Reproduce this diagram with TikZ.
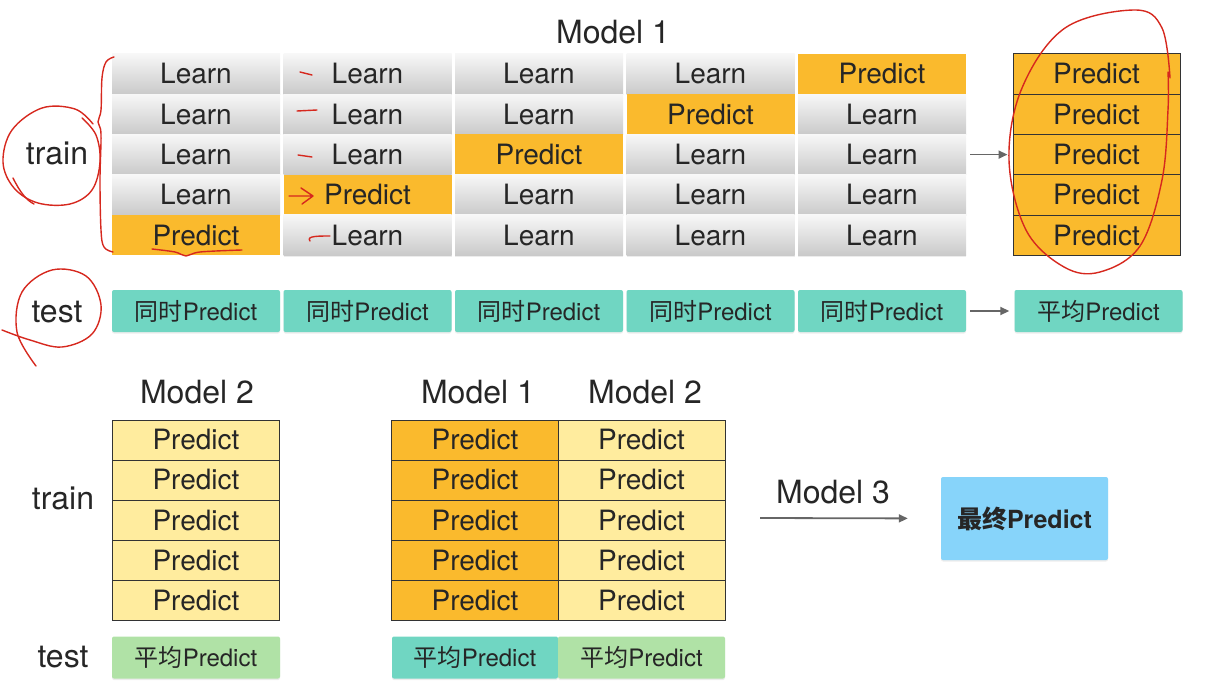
\documentclass[tikz,border=0pt]{standalone}
\usepackage{fontspec}
\setmainfont{TeX Gyre Heros}
\newfontfamily\cjk{Noto Sans CJK SC}
\usetikzlibrary{arrows.meta, shadows}

\definecolor{inkgray}{RGB}{38,38,38}
\definecolor{predorange}{RGB}{250,186,45}
\definecolor{paleyellow}{RGB}{255,236,158}
\definecolor{testteal}{RGB}{112,214,194}
\definecolor{palegreen}{RGB}{176,226,166}
\definecolor{finalblue}{RGB}{135,212,250}
\definecolor{penred}{RGB}{214,40,30}

\begin{document}
\begin{tikzpicture}[
        x=1pt, y=-1pt,
        every node/.style={text=inkgray, inner sep=0pt},
        lbl/.style={font=\fontsize{32}{34}\selectfont},
        cell/.style={minimum width=168pt, minimum height=40.5pt, font=\fontsize{28}{30}\selectfont},
        learn/.style={cell, top color=gray!6, bottom color=gray!42,
            drop shadow={shadow xshift=0pt, shadow yshift=-1.5pt, opacity=0.15}},
        pred/.style={cell, fill=predorange},
        predbox/.style={cell, minimum width=167pt, minimum height=40pt, fill=predorange, draw=black!80, line width=1pt},
        ybox/.style={predbox, fill=paleyellow},
        testcell/.style={minimum width=168pt, minimum height=42pt, rounded corners=2pt,
            font=\fontsize{24}{26}\selectfont,
            drop shadow={shadow xshift=0pt, shadow yshift=-1.5pt, opacity=0.15}},
        teal/.style={testcell, fill=testteal},
        green/.style={testcell, fill=palegreen},
        finalbox/.style={minimum width=167pt, minimum height=83pt, rounded corners=2pt, fill=finalblue,
            font=\fontsize{25}{27}\selectfont\bfseries,
            drop shadow={shadow xshift=0pt, shadow yshift=-1.5pt, opacity=0.15}},
        arrow/.style={-{Triangle[length=9pt, width=8pt]}, draw=gray!80!black, line width=1.8pt},
        redpen/.style={draw=penred, line width=1.4pt, line cap=round, line join=round}
    ]
    \useasboundingbox (0,0) rectangle (1205,690);

    % Model 1 grid
    \node[lbl] (m1top) at (613,32) {Model 1};
    \foreach \c in {1,...,5} {
        \foreach \r in {1,...,5} {
            \pgfmathsetmacro\cx{196+171.5*(\c-1)}
            \pgfmathsetmacro\cy{74+40.3*(\r-1)}
            \ifnum\numexpr\c+\r\relax=6
                \node[pred] (l-\c-\r) at (\cx,\cy) {Predict};
            \else
                \node[learn] (l-\c-\r) at (\cx,\cy) {Learn};
            \fi
        }
        \node[teal] (t-\c) at ({196+171.5*(\c-1)},311) {{\cjk 同时}Predict};
    }

    % stacked predictions
    \foreach \r in {1,...,5}
        \node[predbox, minimum height=40.3pt] (p-\r) at (1096.5,{74+40.3*(\r-1)}) {Predict};
    \node[teal] (tavg) at (1098.5,311) {{\cjk 平均}Predict};

    \node[lbl] (train) at (57,153) {train};
    \node[lbl] (test) at (57,312) {test};

    \draw[arrow, shorten <=4pt, shorten >=5pt] (l-5-3.east) -- (p-3.west);
    \draw[arrow, shorten <=4pt, shorten >=5pt] (t-5.east) -- (tavg.west);

    % Model 2 alone
    \node[lbl] (m2a) at (197,392) {Model 2};
    \foreach \r in {1,...,5}
        \node[ybox] (b-\r) at (196,{400+40*\r}) {Predict};
    \node[green] (bt) at (196,657.5) {{\cjk 平均}Predict};
    \node[lbl] (train2) at (63,498) {train};
    \node[lbl] (test2) at (63,657) {test};

    % Model 1 + Model 2
    \node[lbl] (m1b) at (478,392) {Model 1};
    \node[lbl] (m2b) at (645,392) {Model 2};
    \foreach \r in {1,...,5} {
        \node[predbox] (ma-\r) at (475,{400+40*\r}) {Predict};
        \node[ybox, minimum width=167pt] (mb-\r) at (641.5,{400+40*\r}) {Predict};
    }
    \node[teal, minimum width=166pt] (ct1) at (475,657.5) {{\cjk 平均}Predict};
    \node[green, minimum width=167pt] (ct2) at (641.5,657.5) {{\cjk 平均}Predict};

    % Model 3
    \node[finalbox] (final) at (1024.5,518.5) {{\cjk\bfseries 最终}Predict};
    \coordinate (m3start) at (760,518);
    \node[lbl] (m3) at (833,492) {Model 3};
    \draw[arrow, shorten >=33pt] (m3start) -- (final.west);

    % red pen marks
    \draw[redpen] plot[smooth, tension=0.6] coordinates {(114,57) (106,62) (102,78) (101,110) (98,122) (101,134) (100,180) (101,230) (104,247) (113,252)};
    \draw[redpen] plot[smooth, tension=0.6] coordinates {(93,124) (75,109) (42,108) (12,130) (3,162) (14,188) (38,203) (70,204) (92,190) (100,162) (96,135) (82,118)};
    \draw[redpen] (13,178) .. controls (20,192) and (26,200) .. (34,204);
    \draw[redpen] plot[smooth, tension=0.6] coordinates {(36,366) (17,332) (22,292) (52,270) (86,276) (101,305) (92,334) (62,347) (30,340) (2,330)};
    \draw[redpen] plot[smooth, tension=0.6] coordinates {(1170,78) (1162,28) (1135,10) (1065,28) (1022,88) (1009,160) (1026,230) (1064,267) (1100,272) (1140,246) (1162,180) (1168,110) (1168,72)};
    \draw[redpen] (300,72) -- (312,75);
    \draw[redpen] (297,111) -- (317,110);
    \draw[redpen] (298,155) -- (312,157);
    \draw[redpen] (310,241) .. controls (306,236) and (318,236) .. (330,236);
    \draw[redpen] (289,196) -- (311,196) (301,188) -- (313,196) -- (302,204);
    \draw[redpen] plot[smooth, tension=0.6] coordinates {(152,249) (175,252) (186,256) (200,252) (242,250)};
\end{tikzpicture}
\end{document}
